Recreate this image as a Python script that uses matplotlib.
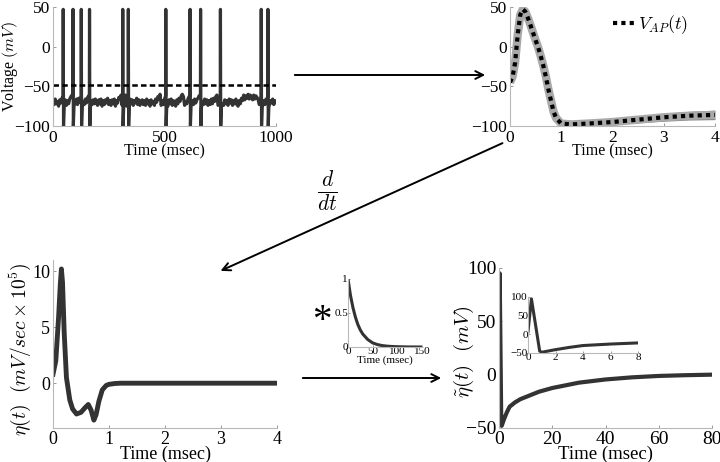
import numpy as np
import matplotlib
matplotlib.use("Agg")
import matplotlib.pyplot as plt

plt.rcParams['font.family'] = ['Liberation Serif', 'DejaVu Serif']
plt.rcParams['mathtext.fontset'] = 'cm'

# ---------------- data ----------------
# Panel A: voltage trace (ms, mV)
spike_times = [45, 89, 126, 163, 312, 337, 505, 614, 661, 750, 933, 963]
spike_peak = 47
spike_trough = -100
threshold = -48
baseline = [
    -68, -73, -66, -72, -69, -75, -67, -71, -65, -64, -73, -67, -74, -68, -72, -66, -63, -61, -74, -68,
    -72, -66, -73, -65, -70, -62, -75, -69, -73, -66, -71, -64, -62, -74, -68, -73, -67, -72, -66, -71,
    -74, -67, -72, -66, -75, -68, -73, -67, -71, -65, -73, -68, -74, -67, -72, -66, -75, -68, -71, -64,
    -66, -61, -74, -68, -64, -61, -75, -69, -73, -66, -72, -67, -74, -68, -71, -65, -73, -67, -74, -69,
    -67, -73, -68, -74, -66, -72, -68, -75, -67, -72, -69, -74, -66, -70, -63, -66, -60, -74, -68, -73,
    -66, -73, -68, -75, -67, -72, -66, -74, -68, -71, -75, -67, -72, -65, -69, -62, -60, -63, -74, -69,
    -72, -66, -63, -61, -74, -68, -73, -66, -71, -67, -65, -62, -61, -74, -69, -73, -66, -72, -67, -74,
    -68, -73, -66, -72, -65, -69, -63, -61, -74, -68, -73, -66, -72, -74, -67, -72, -68, -74, -66, -71,
    -67, -74, -68, -72, -66, -73, -75, -68, -72, -65, -68, -61, -67, -62, -65, -60, -66, -61, -63, -67,
    -61, -66, -62, -64, -67, -73, -68, -62, -74, -68, -73, -66, -72, -67, -74, -68, -71, -66, -73, -68,
    -70,
]

# Panel B: average action potential
t_ap = [0, 0.05, 0.1, 0.15, 0.2, 0.25, 0.3, 0.35, 0.4, 0.5, 0.55, 0.6, 0.65, 0.7, 0.75, 0.8,
        0.85, 0.9, 1.0, 1.2, 1.5, 2.0, 2.5, 3.0, 3.5, 4.0]
v_ap = [-45, -38, -20, 15, 40, 47, 44, 36, 27, 8, -1, -12, -24, -38, -54, -68,
        -82, -90, -97, -98, -97, -95, -92, -89, -87, -86]
ap_spread = [0, 0, 0, 0, 0, 0, 0, 0, 0, 0, 0, 0, 0, 0, 0, 0,
             0, 0, 0, 0.5, 1.5, 3, 4, 5, 5.5, 6]

# Panel C: derivative eta(t)
t_eta = [0, 0.05, 0.1, 0.13, 0.15, 0.17, 0.2, 0.24, 0.3, 0.35, 0.42, 0.5, 0.57, 0.63,
         0.68, 0.73, 0.77, 0.82, 0.88, 0.95, 1.0, 1.1, 1.2, 1.5, 2, 3, 4]
eta = [0.8, 2.0, 5.9, 8.8, 10.2, 9.0, 4.5, 0.5, -1.5, -2.3, -2.75, -2.6, -2.2, -1.9,
       -2.4, -3.3, -2.8, -1.6, -0.6, -0.2, -0.1, -0.03, 0, 0, 0, 0, 0]

# Panel D: kernel
t_k = [0, 5, 10, 15, 20, 25, 30, 40, 50, 60, 70, 80, 90, 100, 120, 150]
k = [1, 0.76, 0.58, 0.44, 0.33, 0.25, 0.19, 0.11, 0.06, 0.035, 0.02, 0.012, 0.007, 0.004, 0.001, 0]

# Panel E: filtered eta
t_et = [0, 0.25, 0.85, 1.0, 2, 3, 4, 6, 8, 10, 15, 20, 30, 40, 50, 60, 70, 80]
v_et = [7, 95, -45, -48, -41, -35, -30, -26, -23, -21, -16, -12.5, -7.5, -4.5, -2.5, -1.2, -0.5, 0]

# ---------------- figure ----------------
W, H = 720, 462
fig = plt.figure(figsize=(W / 100, H / 100), dpi=100)

def px_axes(x0, y0, x1, y1):
    return fig.add_axes([x0 / W, 1 - y1 / H, (x1 - x0) / W, (y1 - y0) / H])

def style(ax, fs, tl=2.5):
    for s in ['top', 'right']:
        ax.spines[s].set_visible(False)
    for s in ['left', 'bottom']:
        ax.spines[s].set_color('#b8b8b8')
        ax.spines[s].set_linewidth(0.8)
    ax.tick_params(length=tl, width=0.7, color='#999999', direction='in',
                   labelsize=fs, pad=2)

lc = '#333333'

# Panel A
axA = px_axes(53, 7, 276, 126)
bt = np.linspace(0, 1000, len(baseline))
keep = np.ones(len(bt), bool)
for ts in spike_times:
    keep &= ~((bt >= ts - 1) & (bt <= ts + 5))
tt = list(bt[keep])
vv = list(np.array(baseline, float)[keep])
for ts in spike_times:
    tt += [ts, ts + 0.8, ts + 2.2, ts + 5]
    vv += [-62, spike_peak, spike_trough, -76]
order = np.argsort(tt)
axA.plot(np.array(tt)[order], np.array(vv)[order], color=lc, lw=2.3)
axA.axhline(threshold, color='black', lw=1.8, ls=(0, (2.2, 1.3)))
axA.set_xlim(0, 1000)
axA.set_ylim(-100, 50)
axA.set_xticks([0, 500, 1000])
axA.set_yticks([-100, -50, 0, 50])
style(axA, 12.5)
axA.tick_params(axis='x', pad=3)
axA.set_xlabel('Time (msec)', fontsize=11.5, labelpad=-2)
axA.set_ylabel('Voltage $(mV)$', fontsize=11.5)
axA.yaxis.set_label_coords(-0.148, 0.5)

# Panel B
axB = px_axes(510, 7, 715, 126)
lo = np.array(v_ap) - np.array(ap_spread)
hi = np.array(v_ap) + np.array(ap_spread)
axB.fill_between(t_ap, lo, hi, color='#555555', alpha=0.7, lw=0)
axB.plot(t_ap, v_ap, color='#a9a9a9', lw=6, solid_capstyle='butt')
axB.plot(t_ap, v_ap, color='black', lw=3, ls=(0, (1, 1)), dash_capstyle='butt',
         label='$V_{AP}(t)$')
axB.set_xlim(0, 4)
axB.set_ylim(-100, 50)
axB.set_xticks([0, 1, 2, 3, 4])
axB.set_yticks([-100, -50, 0, 50])
style(axB, 12.5)
axB.tick_params(axis='x', pad=3)
axB.set_xlabel('Time (msec)', fontsize=11.5, labelpad=-2)
axB.legend(loc='center left', frameon=False, fontsize=13, handlelength=1.2,
           handletextpad=0.2, borderaxespad=0, borderpad=0,
           bbox_to_anchor=(0.5, 0.85))

# Panel C
axC = px_axes(53, 260, 277, 428)
axC.plot(t_eta, eta, color=lc, lw=3.5)
axC.set_xlim(0, 4)
axC.set_ylim(-4, 11)
axC.set_xticks([0, 1, 2, 3, 4])
axC.set_yticks([0, 5, 10])
style(axC, 13)
axC.set_xlabel('Time (msec)', fontsize=13, labelpad=-1.5)
axC.set_ylabel(r'$\eta(t)\ \ (mV/sec\times10^5)$', fontsize=14)
axC.yaxis.set_label_coords(-0.09, 0.47)

# Panel D (kernel)
axD = px_axes(348, 279, 422, 347)
axD.plot(t_k, k, color=lc, lw=2.2)
axD.set_xlim(0, 150)
axD.set_ylim(0, 1)
axD.set_xticks([0, 50, 100, 150])
axD.set_yticks([0, 0.5, 1])
axD.set_yticklabels(['0', '0.5', '1'])
style(axD, 8, tl=1.5)
axD.tick_params(pad=0)
axD.set_xlabel('Time (msec)', fontsize=8, labelpad=-0.5)

# Panel E
axE = px_axes(499, 268, 712, 428)
axE.plot(t_et, v_et, color=lc, lw=3)
axE.set_xlim(0, 80)
axE.set_ylim(-50, 100)
axE.set_xticks([0, 20, 40, 60, 80])
axE.set_yticks([-50, 0, 50, 100])
style(axE, 14)
axE.set_xlabel('Time (msec)', fontsize=13.5, labelpad=-1.5)
axE.set_ylabel(r'$\tilde{\eta}(t)\ \ (mV)$', fontsize=15)
axE.yaxis.set_label_coords(-0.11, 0.48)

axI = px_axes(528, 297, 638, 353)
axI.plot(t_et, v_et, color=lc, lw=2.2)
axI.set_xlim(0, 8)
axI.set_ylim(-50, 100)
axI.set_xticks([0, 2, 4, 6, 8])
axI.set_yticks([-50, 0, 50, 100])
style(axI, 8, tl=1.5)
axI.tick_params(pad=0)

# arrows and operators
def arrow(x0, y0, x1, y1):
    fig.add_artist(matplotlib.patches.FancyArrowPatch(
        (x0 / W, 1 - y0 / H), (x1 / W, 1 - y1 / H), transform=fig.transFigure,
        arrowstyle='->', mutation_scale=14, lw=1.4, color='black'))

arrow(292, 75, 488, 75)
arrow(505, 142, 218, 272)
arrow(300, 378, 444, 378)
fig.text(327 / W, 1 - 191 / H, r'$\frac{d}{dt}$', fontsize=22, ha='center', va='center')
fig.text(322 / W, 1 - 322 / H, '*', fontsize=28, ha='center', va='center')

fig.savefig('out.png', dpi=100)
